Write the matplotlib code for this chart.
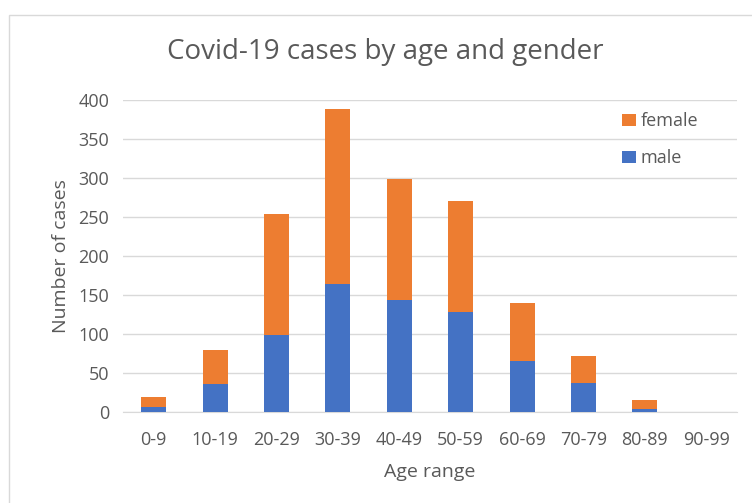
import matplotlib.pyplot as plt
import numpy as np

age_ranges = ['0-9', '10-19', '20-29', '30-39', '40-49',
              '50-59', '60-69', '70-79', '80-89', '90-99']
male = [6, 36, 99, 164, 143, 128, 65, 37, 4, 0]
female = [13, 43, 155, 225, 155, 143, 75, 35, 11, 0]

plt.rcParams['font.family'] = ['Open Sans', 'DejaVu Sans']

fig = plt.figure(figsize=(7.52, 5.03), dpi=100)
W, H = 752, 503
ax = fig.add_axes([123 / W, 1 - 411.7 / H, (737 - 123) / W, (411.7 - 100) / H])

x = np.arange(len(age_ranges))
ax.bar(x, male, width=0.41, color='#4472C4', label='male', zorder=3)
ax.bar(x, female, width=0.41, bottom=male, color='#ED7D31', label='female', zorder=3)

ax.set_xlim(-0.5, len(age_ranges) - 0.5)
ax.set_ylim(0, 400)
ax.set_yticks(range(0, 401, 50))
ax.set_xticks(x)
ax.set_xticklabels(age_ranges)
ax.tick_params(axis='both', length=0, labelsize=13, colors='#595959')
ax.tick_params(axis='y', pad=10)
ax.tick_params(axis='x', pad=14)
ax.grid(axis='y', color='#D9D9D9', linewidth=1, zorder=0)
for s in ['top', 'right', 'left']:
    ax.spines[s].set_visible(False)
ax.spines['bottom'].set_color('#D9D9D9')

ax.set_xlabel('Age range', fontsize=14, color='#595959', labelpad=10)
ax.set_ylabel('Number of cases', fontsize=14, color='#595959', labelpad=6)
fig.text(385 / W, 1 - 52 / H, 'Covid-19 cases by age and gender',
         ha='center', va='center', fontsize=20, color='#595959')

handles, labels = ax.get_legend_handles_labels()
ax.legend(handles[::-1], labels[::-1], loc='upper left',
          bbox_to_anchor=(606 / W, 1 - 96 / H), bbox_transform=fig.transFigure,
          frameon=False, fontsize=13, handlelength=0.75, handleheight=0.6,
          handletextpad=0.25, labelspacing=1.05, labelcolor='#595959')

# chart border
fig.patches.append(plt.Rectangle((9 / W, -0.1), 1.2, 1 - 15 / H + 0.1,
                                 transform=fig.transFigure, fill=False,
                                 edgecolor='#D9D9D9', linewidth=1))

plt.savefig('out.png', dpi=100)
